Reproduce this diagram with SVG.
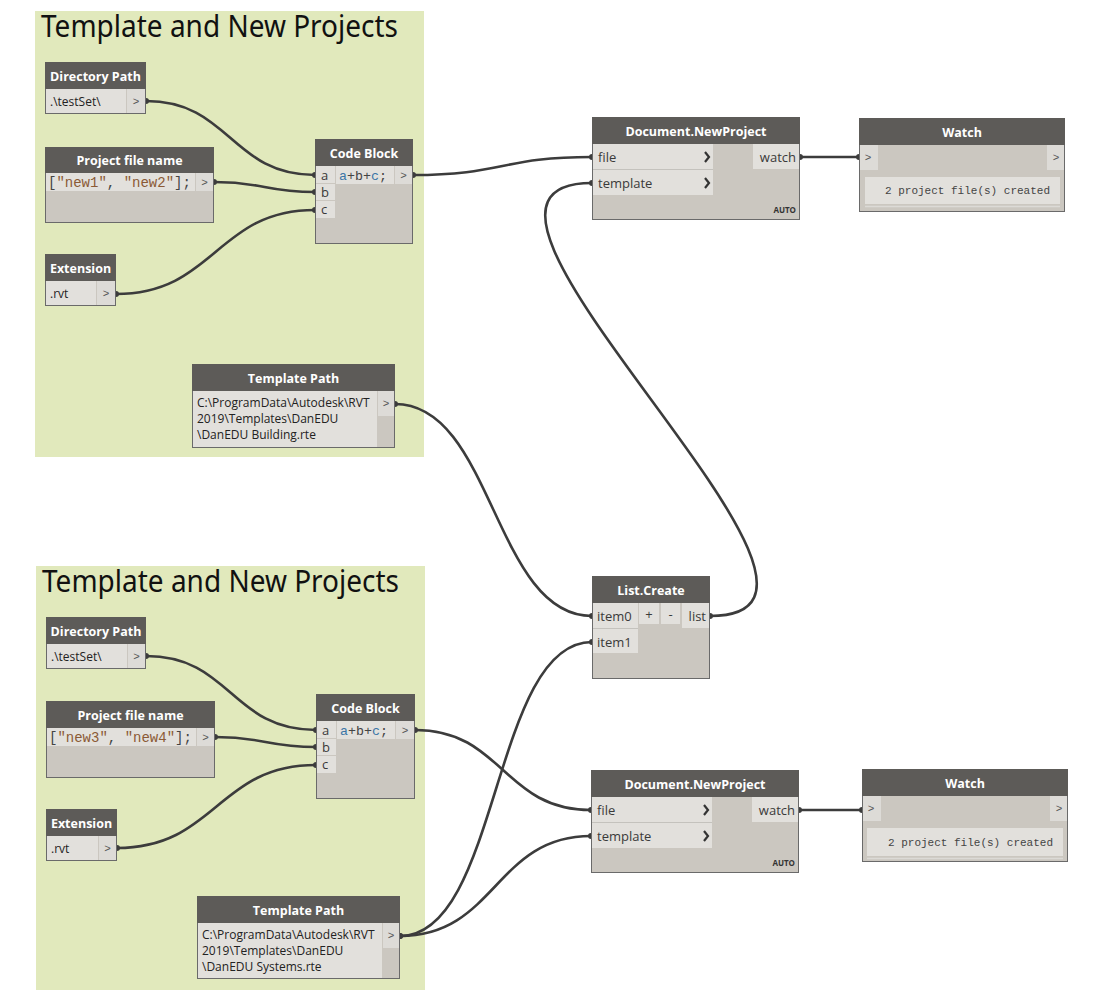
<svg xmlns="http://www.w3.org/2000/svg" width="1104" height="1000" viewBox="0 0 1104 1000">
<defs>
<style>
.grp{fill:#e1e9bc}
.gt{font-family:"Noto Sans","Open Sans",sans-serif;font-size:30px;fill:#111}
.body{fill:#cbc7c0;stroke:#6a6a6a;stroke-width:1}
.hdr{fill:#5d5b58}
.fld{fill:#e2e0dc}
.prt{fill:#dddbd7}
.sep{stroke:#c4c2bd;stroke-width:1}
.ht{font-family:"Open Sans","Noto Sans",sans-serif;font-size:12.5px;font-weight:bold;fill:#fff;text-anchor:middle}
.tx{font-family:"Open Sans","Noto Sans",sans-serif;font-size:12px;fill:#222}
.lb{font-family:"Open Sans","Noto Sans",sans-serif;font-size:13px;fill:#3a3a3a}
.ar{font-family:"Liberation Mono",monospace;font-size:11px;fill:#555;text-anchor:middle}
.chev{fill:none;stroke:#333;stroke-width:2.2}
.mono{font-family:"Liberation Mono",monospace;fill:#444}
.str{fill:#8b5a35}
.var{fill:#3a76a6}
.auto{font-family:"Open Sans","Noto Sans",sans-serif;font-size:8px;font-weight:bold;fill:#333;text-anchor:end}
.wire{fill:none;stroke:#3c3c3c;stroke-width:2.6;marker-start:url(#dot);marker-end:url(#dot)}
</style>
<marker id="dot" markerUnits="userSpaceOnUse" markerWidth="8" markerHeight="8" refX="4" refY="4" viewBox="0 0 8 8"><circle cx="4" cy="4" r="3" fill="#3c3c3c"/></marker>
</defs>
<rect width="1104" height="1000" fill="#ffffff"/>

<g id="group-top">
<rect class="grp" x="35" y="11" width="389" height="446"/>
<text class="gt" x="41" y="37" textLength="357" lengthAdjust="spacingAndGlyphs">Template and New Projects</text>
</g>
<g id="group-bottom">
<rect class="grp" x="36" y="566" width="389" height="424"/>
<text class="gt" x="42" y="592" textLength="357" lengthAdjust="spacingAndGlyphs">Template and New Projects</text>
</g>

<g id="connectors">
<path class="wire" d="M146,101 C230,101 231,175 315,175"/>
<path class="wire" d="M214,182 C265,182 264,192 315,192"/>
<path class="wire" d="M116,294 C215,294 216,210 315,210"/>
<path class="wire" d="M413,175 C503,175 502,157 592,157"/>
<path class="wire" d="M395,404 C493,404 494,616 592,616"/>
<path class="wire" d="M710,616 C910,616 392,183 592,183"/>
<path class="wire" d="M800,157 C830,157 829,157 859,157"/>
<path class="wire" d="M146,656 C231,656 231,730 316,730"/>
<path class="wire" d="M215,737 C265,737 266,747 316,747"/>
<path class="wire" d="M117,848 C216,848 217,765 316,765"/>
<path class="wire" d="M415,730 C503,730 503,810 591,810"/>
<path class="wire" d="M400,936 C496,936 495,836 591,836"/>
<path class="wire" d="M400,936 C500,936 492,642 592,642"/>
<path class="wire" d="M799,810 C830,810 831,810 862,810"/>
</g>

<!-- TOP -->
<g id="dirpath1">
<rect class="body" x="45.5" y="62.5" width="100" height="51"/>
<rect class="hdr" x="45" y="62" width="101" height="27"/>
<rect class="fld" x="46" y="89" width="80" height="24"/>
<rect class="prt" x="127" y="89" width="18" height="24"/>
<text class="ht" x="95.5" y="81">Directory Path</text>
<text class="tx" x="50" y="106">.\testSet\</text>
<text class="ar" x="136" y="105">&gt;</text>
</g>

<g id="filename1">
<rect class="body" x="45.5" y="147.5" width="168" height="75"/>
<rect class="hdr" x="45" y="147" width="169" height="26"/>
<rect class="fld" x="46" y="173" width="149" height="18"/>
<rect class="prt" x="196" y="173" width="17" height="18"/>
<text class="ht" x="129.5" y="165">Project file name</text>
<text class="mono" x="48" y="187" font-size="14"><tspan>[</tspan><tspan class="str">"new1"</tspan><tspan>, </tspan><tspan class="str">"new2"</tspan><tspan>];</tspan></text>
<text class="ar" x="204.5" y="186">&gt;</text>
</g>

<g id="codeblock1">
<rect class="body" x="315.5" y="139.5" width="97" height="104"/>
<rect class="hdr" x="315" y="139" width="98" height="27"/>
<rect class="fld" x="316" y="166" width="19" height="17"/>
<rect class="fld" x="316" y="184" width="19" height="16"/>
<rect class="fld" x="316" y="201" width="19" height="17"/>
<rect class="fld" x="336" y="166" width="58" height="18"/>
<rect class="prt" x="395" y="166" width="17" height="18"/>
<text class="ht" x="364" y="158">Code Block</text>
<text class="lb" x="321" y="180">a</text>
<text class="lb" x="321" y="197">b</text>
<text class="lb" x="321" y="214">c</text>
<text class="mono" x="339" y="180" font-size="13.3"><tspan class="var">a</tspan><tspan>+b+</tspan><tspan class="var">c</tspan><tspan>;</tspan></text>
<text class="ar" x="403.5" y="179">&gt;</text>
</g>

<g id="extension1">
<rect class="body" x="45.5" y="254.5" width="70" height="51"/>
<rect class="hdr" x="45" y="254" width="71" height="27"/>
<rect class="fld" x="46" y="281" width="50" height="24"/>
<rect class="prt" x="97" y="281" width="18" height="24"/>
<text class="ht" x="80.5" y="273">Extension</text>
<text class="tx" x="50" y="298">.rvt</text>
<text class="ar" x="106" y="297">&gt;</text>
</g>

<g id="templatepath1">
<rect class="body" x="192.5" y="364.5" width="202" height="83"/>
<rect class="hdr" x="192" y="364" width="203" height="27"/>
<rect class="fld" x="193" y="391" width="184" height="56"/>
<rect class="prt" x="378" y="391" width="16" height="25"/>
<text class="ht" x="293.5" y="383">Template Path</text>
<text class="tx" x="197" y="407">C:\ProgramData\Autodesk\RVT</text>
<text class="tx" x="197" y="423">2019\Templates\DanEDU</text>
<text class="tx" x="197" y="439">\DanEDU Building.rte</text>
<text class="ar" x="386" y="407">&gt;</text>
</g>

<g id="newproject1">
<rect class="body" x="592.5" y="117.5" width="207" height="102"/>
<rect class="hdr" x="592" y="117" width="208" height="27"/>
<rect class="fld" x="593" y="144" width="120" height="25"/>
<rect class="fld" x="593" y="170" width="120" height="25"/>
<rect class="fld" x="753" y="144" width="46" height="25"/>
<line class="sep" x1="593" y1="169.5" x2="713" y2="169.5"/>
<text class="ht" x="696" y="136">Document.NewProject</text>
<text class="lb" x="598" y="162">file</text>
<text class="lb" x="598" y="188">template</text>
<text class="lb" x="796" y="162" text-anchor="end">watch</text>
<path class="chev" d="M705,152 L709,157 L705,162"/>
<path class="chev" d="M705,178 L709,183 L705,188"/>
<text class="auto" x="796" y="213">AUTO</text>
</g>

<g id="watch1">
<rect class="body" x="859.5" y="118.5" width="205" height="93"/>
<rect class="hdr" x="859" y="118" width="206" height="27"/>
<rect class="prt" x="860" y="145" width="18" height="25"/>
<rect class="prt" x="1047" y="145" width="17" height="25"/>
<rect class="fld" x="865" y="177" width="195" height="27"/>
<line x1="865" y1="206.5" x2="1060" y2="206.5" stroke="#dcdad6" stroke-width="1.5"/>
<text class="ht" x="962" y="137">Watch</text>
<text class="ar" x="868" y="161">&gt;</text>
<text class="ar" x="1056" y="161">&gt;</text>
<text class="mono" x="885" y="194" font-size="11">2 project file(s) created</text>
</g>

<g id="listcreate">
<rect class="body" x="592.5" y="576.5" width="117" height="102"/>
<rect class="hdr" x="592" y="576" width="118" height="27"/>
<rect class="fld" x="593" y="603" width="45" height="25"/>
<rect class="fld" x="593" y="629" width="45" height="24"/>
<line class="sep" x1="593" y1="628.5" x2="638" y2="628.5"/>
<rect class="fld" x="639" y="603" width="20" height="21"/>
<rect class="fld" x="661" y="603" width="19" height="21"/>
<rect class="fld" x="682" y="603" width="27" height="25"/>
<text class="ht" x="651" y="595">List.Create</text>
<text class="lb" x="597" y="621">item0</text>
<text class="lb" x="597" y="647">item1</text>
<text class="lb" x="649" y="619" text-anchor="middle" font-size="12">+</text>
<text class="lb" x="670.5" y="619" text-anchor="middle" font-size="12">-</text>
<text class="lb" x="706" y="621" text-anchor="end">list</text>
</g>

<!-- BOTTOM -->
<g id="dirpath2">
<rect class="body" x="46.5" y="617.5" width="99" height="51"/>
<rect class="hdr" x="46" y="617" width="100" height="27"/>
<rect class="fld" x="47" y="644" width="80" height="24"/>
<rect class="prt" x="128" y="644" width="17" height="24"/>
<text class="ht" x="96" y="636">Directory Path</text>
<text class="tx" x="51" y="661">.\testSet\</text>
<text class="ar" x="136.5" y="660">&gt;</text>
</g>

<g id="filename2">
<rect class="body" x="46.5" y="701.5" width="168" height="76"/>
<rect class="hdr" x="46" y="701" width="169" height="27"/>
<rect class="fld" x="47" y="728" width="149" height="18"/>
<rect class="prt" x="197" y="728" width="17" height="18"/>
<text class="ht" x="130.5" y="720">Project file name</text>
<text class="mono" x="49" y="742" font-size="14"><tspan>[</tspan><tspan class="str">"new3"</tspan><tspan>, </tspan><tspan class="str">"new4"</tspan><tspan>];</tspan></text>
<text class="ar" x="205.5" y="741">&gt;</text>
</g>

<g id="codeblock2">
<rect class="body" x="316.5" y="694.5" width="98" height="104"/>
<rect class="hdr" x="316" y="694" width="99" height="27"/>
<rect class="fld" x="317" y="721" width="19" height="17"/>
<rect class="fld" x="317" y="739" width="19" height="16"/>
<rect class="fld" x="317" y="756" width="19" height="17"/>
<rect class="fld" x="337" y="721" width="58" height="18"/>
<rect class="prt" x="396" y="721" width="18" height="18"/>
<text class="ht" x="365.5" y="713">Code Block</text>
<text class="lb" x="322" y="735">a</text>
<text class="lb" x="322" y="752">b</text>
<text class="lb" x="322" y="769">c</text>
<text class="mono" x="340" y="735" font-size="13.3"><tspan class="var">a</tspan><tspan>+b+</tspan><tspan class="var">c</tspan><tspan>;</tspan></text>
<text class="ar" x="405" y="734">&gt;</text>
</g>

<g id="extension2">
<rect class="body" x="46.5" y="809.5" width="70" height="51"/>
<rect class="hdr" x="46" y="809" width="71" height="27"/>
<rect class="fld" x="47" y="836" width="51" height="24"/>
<rect class="prt" x="99" y="836" width="17" height="24"/>
<text class="ht" x="81.5" y="828">Extension</text>
<text class="tx" x="51" y="853">.rvt</text>
<text class="ar" x="107.5" y="852">&gt;</text>
</g>

<g id="templatepath2">
<rect class="body" x="197.5" y="896.5" width="202" height="82"/>
<rect class="hdr" x="197" y="896" width="203" height="27"/>
<rect class="fld" x="198" y="923" width="184" height="55"/>
<rect class="prt" x="383" y="923" width="16" height="25"/>
<text class="ht" x="298.5" y="915">Template Path</text>
<text class="tx" x="202" y="939">C:\ProgramData\Autodesk\RVT</text>
<text class="tx" x="202" y="955">2019\Templates\DanEDU</text>
<text class="tx" x="202" y="971">\DanEDU Systems.rte</text>
<text class="ar" x="391" y="939">&gt;</text>
</g>

<g id="newproject2">
<rect class="body" x="591.5" y="770.5" width="207" height="102"/>
<rect class="hdr" x="591" y="770" width="208" height="27"/>
<rect class="fld" x="592" y="797" width="120" height="25"/>
<rect class="fld" x="592" y="823" width="120" height="25"/>
<rect class="fld" x="752" y="797" width="46" height="25"/>
<line class="sep" x1="592" y1="822.5" x2="712" y2="822.5"/>
<text class="ht" x="695" y="789">Document.NewProject</text>
<text class="lb" x="597" y="815">file</text>
<text class="lb" x="597" y="841">template</text>
<text class="lb" x="795" y="815" text-anchor="end">watch</text>
<path class="chev" d="M704,805 L708,810 L704,815"/>
<path class="chev" d="M704,831 L708,836 L704,841"/>
<text class="auto" x="795" y="866">AUTO</text>
</g>

<g id="watch2">
<rect class="body" x="862.5" y="769.5" width="205" height="92"/>
<rect class="hdr" x="862" y="769" width="206" height="27"/>
<rect class="prt" x="863" y="796" width="18" height="25"/>
<rect class="prt" x="1050" y="796" width="17" height="25"/>
<rect class="fld" x="867" y="828" width="196" height="28"/>
<line x1="867" y1="858.5" x2="1063" y2="858.5" stroke="#dcdad6" stroke-width="1.5"/>
<text class="ht" x="965" y="788">Watch</text>
<text class="ar" x="871" y="812">&gt;</text>
<text class="ar" x="1059" y="812">&gt;</text>
<text class="mono" x="888" y="846" font-size="11">2 project file(s) created</text>
</g>
</svg>
